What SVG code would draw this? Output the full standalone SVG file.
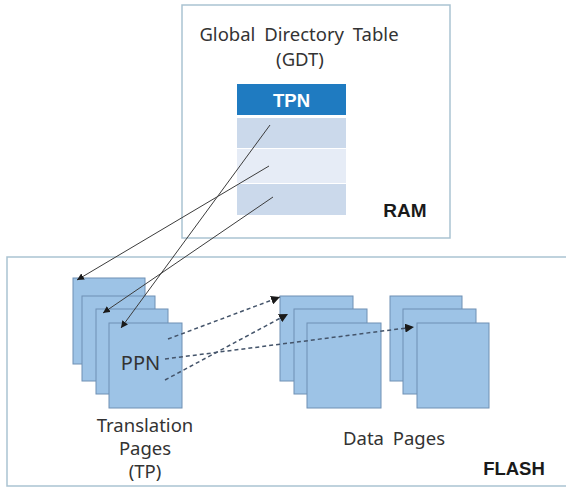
<svg xmlns="http://www.w3.org/2000/svg" width="566" height="489" viewBox="0 0 566 489">
<defs>
<style>
.box{fill:#ffffff;stroke:#aac3d2;stroke-width:1.5}
.page{fill:#9dc3e6;stroke:#6f90b4;stroke-width:1}
.t{font-family:"Noto Sans","Open Sans",sans-serif;fill:#333333}
.b{font-family:"Liberation Sans",Arial,sans-serif;font-weight:bold;fill:#1a1a1a}
.solid{stroke:#3c3c3c;stroke-width:1;fill:none;marker-end:url(#ah)}
.dash{stroke:#44546a;stroke-width:1.5;stroke-dasharray:4 3;fill:none;marker-end:url(#ah2)}
</style>
<marker id="ah" viewBox="0 0 10 10" refX="10" refY="5" markerWidth="7" markerHeight="7" markerUnits="userSpaceOnUse" orient="auto">
<path d="M0,0 L10,5 L0,10 z" fill="#1a1a1a"/>
</marker>
<marker id="ah2" viewBox="0 0 10 10" refX="10" refY="5" markerWidth="9" markerHeight="9" markerUnits="userSpaceOnUse" orient="auto">
<path d="M0,0 L10,5 L0,10 z" fill="#1a1a1a"/>
</marker>
</defs>
<rect width="566" height="489" fill="#ffffff"/>
<g id="ram">
<rect class="box" x="182" y="5" width="268" height="233"/>
<text class="t" x="299" y="41" font-size="18.5" word-spacing="4" text-anchor="middle">Global Directory Table</text>
<text class="t" x="300" y="66" font-size="18.5" text-anchor="middle">(GDT)</text>
<text class="b" x="405" y="217" font-size="19" text-anchor="middle">RAM</text>
</g>
<g id="gdt">
<rect x="237" y="84" width="109" height="31" fill="#1f7bc1"/>
<text x="291.5" y="107" font-family="Liberation Sans,Arial,sans-serif" font-weight="bold" font-size="18.5" fill="#ffffff" text-anchor="middle">TPN</text>
<rect x="237" y="118" width="109" height="30" fill="#cbd9eb"/>
<rect x="237" y="149" width="109" height="34" fill="#e6ecf6"/>
<rect x="237" y="184" width="109" height="31" fill="#cbd9eb"/>
</g>
<g id="flash">
<rect class="box" x="7" y="257" width="566" height="229"/>
<text class="b" x="514" y="475" font-size="18.5" text-anchor="middle">FLASH</text>
</g>
<g id="translation-pages">
<rect class="page" x="73" y="278" width="72" height="86"/>
<rect class="page" x="82" y="296" width="73" height="85"/>
<rect class="page" x="96" y="309" width="72" height="85"/>
<rect class="page" x="109" y="323" width="73" height="85"/>
<text class="t" x="140.5" y="370" font-size="20" text-anchor="middle">PPN</text>
<text class="t" x="145" y="432" font-size="18.5" text-anchor="middle">Translation</text>
<text class="t" x="145" y="455" font-size="18.5" text-anchor="middle">Pages</text>
<text class="t" x="145" y="478" font-size="18.5" text-anchor="middle">(TP)</text>
</g>
<g id="data-pages-1">
<rect class="page" x="280" y="296" width="73" height="85"/>
<rect class="page" x="294" y="309" width="73" height="85"/>
<rect class="page" x="307" y="323" width="74" height="85"/>
</g>
<g id="data-pages-2">
<rect class="page" x="390" y="296" width="72" height="85"/>
<rect class="page" x="403" y="309" width="73" height="85"/>
<rect class="page" x="417" y="323" width="72" height="85"/>
<text class="t" x="394" y="445" font-size="18.5" word-spacing="4" text-anchor="middle">Data Pages</text>
</g>
<g id="connectors">
<line class="solid" x1="270" y1="125" x2="121" y2="328"/>
<line class="solid" x1="269" y1="166" x2="77" y2="280"/>
<line class="solid" x1="273" y1="197" x2="103" y2="313"/>
<line class="dash" x1="168" y1="339" x2="280" y2="297"/>
<line class="dash" x1="165" y1="380" x2="288" y2="314"/>
<line class="dash" x1="165" y1="359" x2="414" y2="327"/>
</g>
</svg>
